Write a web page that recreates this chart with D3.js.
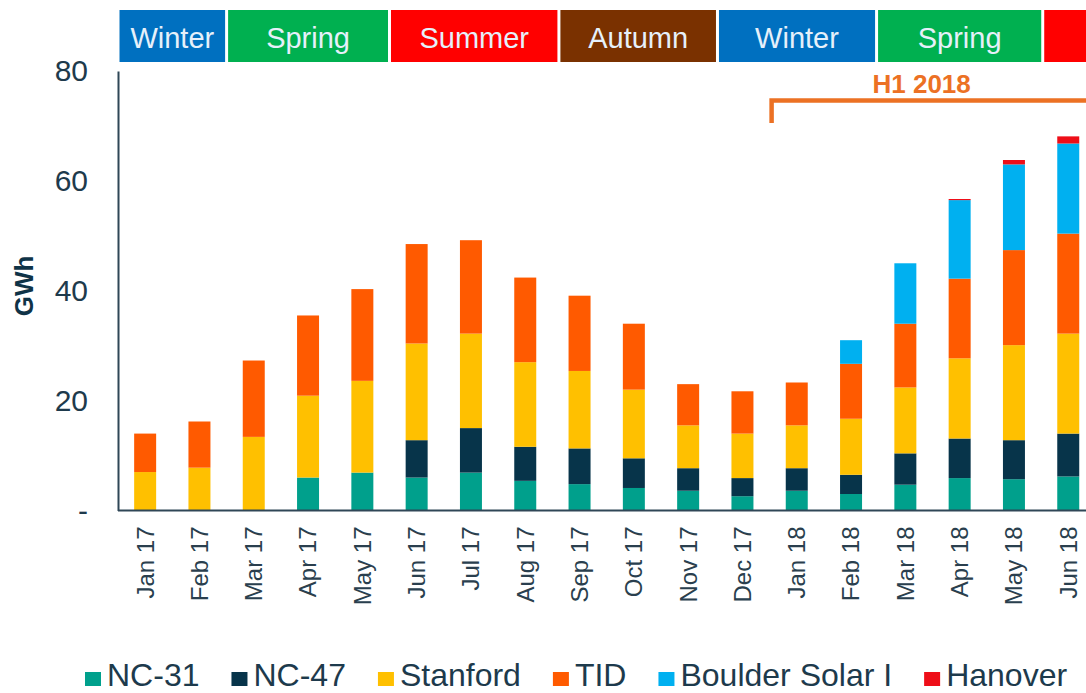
<!DOCTYPE html>
<html>
<head>
<meta charset="utf-8">
<script src="https://cdn.jsdelivr.net/npm/d3@7"></script>
<style>
  body { margin: 0; background: #fff; }
  svg { display: block; font-family: "Liberation Sans", Arial, sans-serif; }
</style>
</head>
<body>
<div id="chart-area"></div>
<script>
// monthly generation (GWh) per plant
var months = ["Jan 17", "Feb 17", "Mar 17", "Apr 17", "May 17", "Jun 17", "Jul 17", "Aug 17", "Sep 17",
              "Oct 17", "Nov 17", "Dec 17", "Jan 18", "Feb 18", "Mar 18", "Apr 18", "May 18", "Jun 18"];
var nc31     = [0, 0, 0, 6.0, 6.9, 6.0, 6.9, 5.4, 4.8, 4.1, 3.6, 2.6, 3.6, 3.0, 4.7, 5.9, 5.7, 6.2];
var nc47     = [0, 0, 0, 0, 0, 6.8, 8.1, 6.2, 6.5, 5.4, 4.1, 3.3, 4.1, 3.5, 5.7, 7.2, 7.1, 7.8];
var stanford = [7.0, 7.8, 13.4, 14.9, 16.7, 17.6, 17.2, 15.4, 14.1, 12.5, 7.8, 8.1, 7.8, 10.2, 12.0, 14.6, 17.3, 18.2];
var tid      = [7.0, 8.4, 13.9, 14.6, 16.7, 18.1, 17.0, 15.4, 13.7, 12.0, 7.5, 7.7, 7.8, 10.0, 11.6, 14.5, 17.3, 18.2];
var boulder  = [0, 0, 0, 0, 0, 0, 0, 0, 0, 0, 0, 0, 0, 4.3, 11.0, 14.3, 15.6, 16.4];
var hanover  = [0, 0, 0, 0, 0, 0, 0, 0, 0, 0, 0, 0, 0, 0, 0, 0.2, 0.8, 1.3];

var seriesNames = ["NC-31", "NC-47", "Stanford", "TID", "Boulder Solar I", "Hanover"];
var seriesData = [nc31, nc47, stanford, tid, boulder, hanover];
var colors = ["#00A08C", "#07344A", "#FFC000", "#FF5A00", "#00B0F0", "#EE0E18"];

var yTicks = [0, 20, 40, 60, 80];

// season bands, edges given in month positions
var seasons = ["Winter", "Spring", "Summer", "Autumn", "Winter", "Spring", "Summer"];
var seasonEdges = [0, 2, 5, 8.12, 11.04, 13.97, 17.03, 20];
var seasonColors = {Winter: "#0070C0", Spring: "#00B050", Summer: "#FF0000", Autumn: "#7A3100"};

var periodLabel = "H1 2018";
var periodStart = 12; // Jan 18

var width = 1086, height = 693;
var left = 118, step = 54.3;

var svg = d3.select("#chart-area")
    .append("svg")
    .attr("width", width)
    .attr("height", height);

var table = months.map((m, i) => {
    var row = {month: m};
    seriesNames.forEach((s, j) => { row[s] = seriesData[j][i]; });
    return row;
});

var x = d3.scaleBand()
    .domain(months)
    .range([left, left + step * months.length])
    .paddingInner(0.595)
    .paddingOuter(0.2975);

var pos = d3.scaleLinear()
    .domain([0, months.length])
    .range([left, left + step * months.length]);

var y = d3.scaleLinear()
    .domain([0, 80])
    .range([510.5, 71]);

var stack = d3.stack().keys(seriesNames);
var layers = stack(table);

svg.selectAll("g.layer")
    .data(layers)
    .enter()
    .append("g")
        .attr("class", "layer")
        .attr("fill", (d, i) => colors[i])
    .selectAll("rect")
    .data(d => d)
    .enter()
    .append("rect")
        .attr("x", d => x(d.data.month))
        .attr("width", x.bandwidth())
        .attr("y", d => y(d[1]))
        .attr("height", d => y(d[0]) - y(d[1]));

// y axis
var yAxis = d3.axisLeft(y)
    .tickValues(yTicks)
    .tickSize(0)
    .tickPadding(30)
    .tickFormat(d => d === 0 ? "-" : d);

var yG = svg.append("g")
    .attr("transform", "translate(" + left + ",0)")
    .call(yAxis);
yG.select(".domain").attr("stroke", "#2F4757").attr("stroke-width", 2);
yG.selectAll("text")
    .attr("font-size", 30)
    .attr("fill", "#1E3A4C")
    .attr("font-family", "Liberation Sans, Arial, sans-serif");

// x axis
var xAxis = d3.axisBottom(x).tickSize(0).tickPadding(0);
var xG = svg.append("g")
    .attr("transform", "translate(0," + y(0) + ")")
    .call(xAxis);
xG.select(".domain")
    .attr("d", "M" + left + ",0H" + width)
    .attr("stroke", "#2F4757")
    .attr("stroke-width", 2);
xG.selectAll("text")
    .attr("font-size", 24)
    .attr("fill", "#2A3F4E")
    .attr("font-family", "Liberation Sans, Arial, sans-serif")
    .attr("text-anchor", "end")
    .attr("dy", "0.35em")
    .attr("transform", "translate(0,16) rotate(-90)")
    .attr("y", 0)
    .attr("x", 0);

svg.append("text")
    .attr("transform", "translate(33,286) rotate(-90)")
    .attr("text-anchor", "middle")
    .attr("font-size", 26)
    .attr("font-weight", "bold")
    .attr("fill", "#0F3347")
    .text("GWh");

// season header
var sg = svg.selectAll("g.season")
    .data(seasons)
    .enter()
    .append("g")
        .attr("class", "season");
sg.append("rect")
    .attr("x", (d, i) => pos(seasonEdges[i]) + 1.5)
    .attr("width", (d, i) => pos(seasonEdges[i + 1]) - pos(seasonEdges[i]) - 3)
    .attr("y", 10)
    .attr("height", 52)
    .attr("fill", d => seasonColors[d]);
// the last band runs past the edge, its label is off the picture
sg.filter((d, i) => pos(seasonEdges[i + 1]) <= width)
  .append("text")
    .attr("x", (d, i) => (pos(seasonEdges[i]) + pos(seasonEdges[i + 1])) / 2)
    .attr("y", 48)
    .attr("text-anchor", "middle")
    .attr("font-size", 29)
    .attr("fill", "#E6F0FA")
    .text(d => d);

// H1 2018 bracket
svg.append("path")
    .attr("d", "M" + (pos(periodStart) + 2) + ",123V100.5H" + (width + 10))
    .attr("fill", "none")
    .attr("stroke", "#EC7124")
    .attr("stroke-width", 4.5);
svg.append("text")
    .attr("x", pos(14.8))
    .attr("y", 93)
    .attr("text-anchor", "middle")
    .attr("font-size", 26)
    .attr("font-weight", "bold")
    .attr("fill", "#EC7124")
    .text(periodLabel);

// legend
var lx = 85;
seriesNames.forEach((s, i) => {
    svg.append("rect")
        .attr("x", lx)
        .attr("y", 672)
        .attr("width", 16)
        .attr("height", 14)
        .attr("fill", colors[i]);
    var t = svg.append("text")
        .attr("x", lx + 22)
        .attr("y", 686)
        .attr("font-size", 32)
        .attr("fill", "#1D3A4C")
        .text(s);
    lx += 22 + t.node().getComputedTextLength() + 32;
});
</script>
</body>
</html>
